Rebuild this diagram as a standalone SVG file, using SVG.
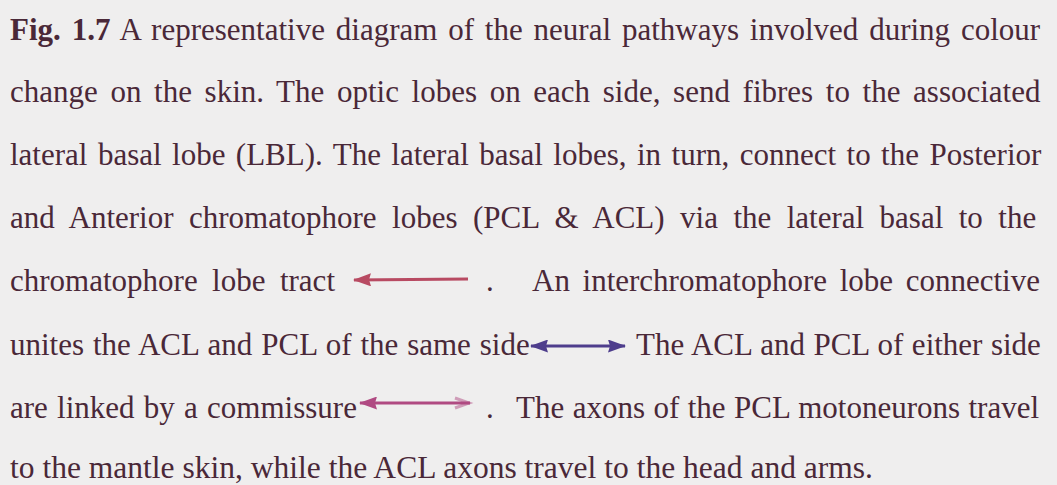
<svg xmlns="http://www.w3.org/2000/svg" width="1057" height="485" viewBox="0 0 1057 485">
<style>
text{font-family:"Liberation Serif","Times New Roman",serif;font-size:31px;fill:#4a2838}
.b{font-weight:bold}
</style>
<defs>
<marker id="hr" viewBox="0 0 18 13" refX="17" refY="6.5" markerWidth="18" markerHeight="13" orient="auto-start-reverse" markerUnits="userSpaceOnUse"><path d="M0,0 L18,6.5 L0,13 L2,6.5 Z" fill="#b84a62"/></marker>
<marker id="hb" viewBox="0 0 18 13" refX="17" refY="6.5" markerWidth="18" markerHeight="13" orient="auto-start-reverse" markerUnits="userSpaceOnUse"><path d="M0,0 L18,6.5 L0,13 L2,6.5 Z" fill="#4e3d8c"/></marker>
<marker id="hm" viewBox="0 0 18 13" refX="17" refY="6.5" markerWidth="18" markerHeight="13" orient="auto-start-reverse" markerUnits="userSpaceOnUse"><path d="M0,0 L18,6.5 L0,13 L2,6.5 Z" fill="#b04a82"/></marker>
</defs>
<rect width="1057" height="485" fill="#efeeee"/>
<g id="text">
<text x="10" y="40" style="word-spacing:3.1px"><tspan class="b">Fig. 1.7</tspan> A representative diagram of the neural pathways involved during colour</text>
<text x="10" y="102" style="word-spacing:4.9px">change on the skin. The optic lobes on each side, send fibres to the associated</text>
<text x="10" y="165" style="word-spacing:2.7px">lateral basal lobe (LBL). The lateral basal lobes, in turn, connect to the Posterior</text>
<text x="10" y="228" style="word-spacing:7.7px">and Anterior chromatophore lobes (PCL &amp; ACL) via the lateral basal to the</text>
<text x="10" y="291" style="word-spacing:6.7px">chromatophore lobe tract</text>
<text x="486" y="291">.</text>
<text x="532" y="291" style="word-spacing:4.9px">An interchromatophore lobe connective</text>
<text x="10" y="355" style="word-spacing:1.1px">unites the ACL and PCL of the same side</text>
<text x="636" y="355" style="word-spacing:0.7px">The ACL and PCL of either side</text>
<text x="10" y="418" style="word-spacing:1.5px">are linked by a commissure</text>
<text x="486" y="418">.</text>
<text x="516" y="418" style="word-spacing:0.7px">The axons of the PCL motoneurons travel</text>
<text x="10" y="478" textLength="863" lengthAdjust="spacingAndGlyphs">to the mantle skin, while the ACL axons travel to the head and arms.</text>
</g>
<g id="connectors" stroke-width="3" fill="none">
<line x1="354" y1="280" x2="468" y2="279" stroke="#b84a62" marker-start="url(#hr)"/>
<line x1="531" y1="346" x2="625" y2="346" stroke="#4e3d8c" marker-start="url(#hb)" marker-end="url(#hb)"/>
<line x1="360" y1="403" x2="470" y2="403" stroke="#b04a82" marker-start="url(#hm)"/>
<path d="M455,398 L469,403 L455,408" stroke="#b04a82" stroke-width="3" fill="none" opacity="0.5"/>
</g>
</svg>
